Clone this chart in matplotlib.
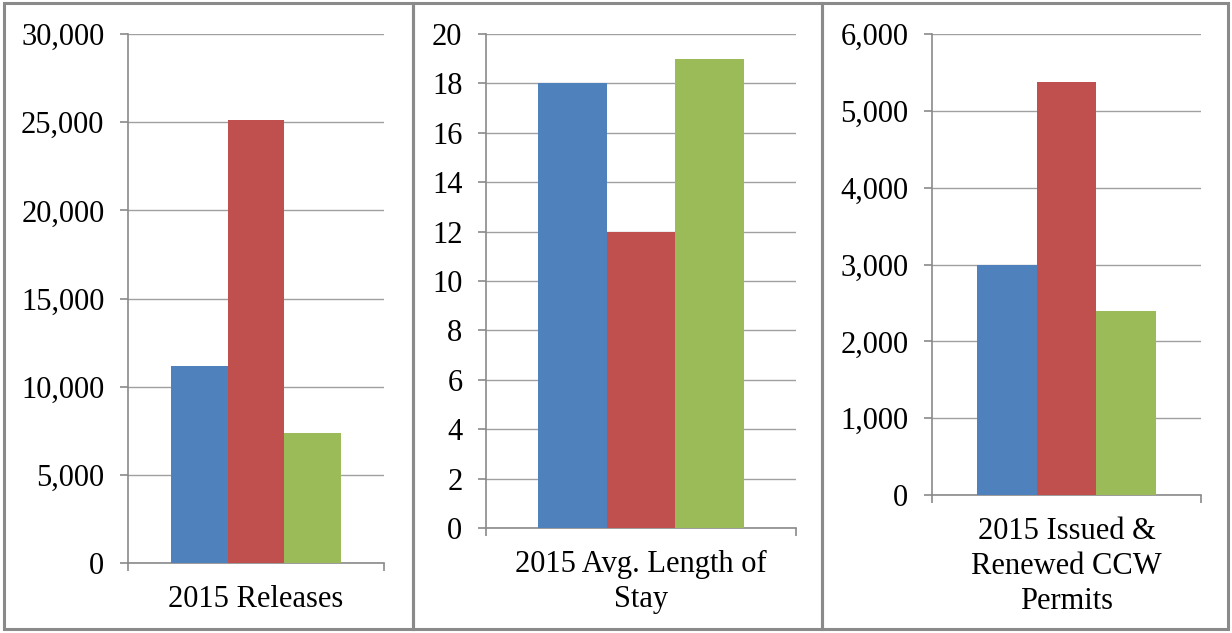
import matplotlib.pyplot as plt
from matplotlib.patches import Rectangle
from matplotlib.ticker import FuncFormatter

# data per panel (three series each)
labels = ['2015 Releases', '2015 Avg. Length of\nStay', '2015 Issued &\nRenewed CCW\nPermits']
releases = [11200, 25100, 7400]
stay = [18, 12, 19]
permits = [3000, 5370, 2390]
values = [releases, stay, permits]
ymax = [30000, 20, 6000]
ystep = [5000, 2, 1000]
colors = ['#4F81BD', '#C0504D', '#9BBB59']

W, H = 1232, 633
plt.rcParams['font.family'] = ['Liberation Serif', 'DejaVu Serif']
fig = plt.figure(figsize=(W / 100, H / 100), dpi=100)

# axes boxes in pixels: left, right, top, bottom
boxes = [(128, 384, 34, 563), (486, 796, 34, 528), (932, 1201, 34, 495)]
frames = [(4, 413), (413, 822), (822, 1228)]

grey = '#8a8a8a'

for i in range(3):
    l, r, t, b = boxes[i]
    ax = fig.add_axes([l / W, 1 - b / H, (r - l) / W, (b - t) / H])
    w = 0.222
    for j in range(3):
        ax.bar((j - 1) * w, values[i][j], width=w, color=colors[j], zorder=3)
    ax.set_xlim(-0.5, 0.5)
    ax.set_ylim(0, ymax[i])
    ax.set_yticks(range(0, ymax[i] + 1, ystep[i]))
    ax.yaxis.set_major_formatter(FuncFormatter(lambda v, p: f'{int(v):,}'))
    ax.set_xticks([-0.5, 0.5], ['', ''])
    ax.grid(axis='y', color='#a0a0a0', linewidth=1, zorder=0)
    for s in ['top', 'right']:
        ax.spines[s].set_visible(False)
    for s in ['left', 'bottom']:
        ax.spines[s].set_color(grey)
        ax.spines[s].set_linewidth(1.2)
    ax.tick_params(axis='both', length=6, width=1.2, color=grey, labelsize=22)
    ax.tick_params(axis='y', pad=11, labelcolor='black')
    ax.annotate(labels[i], xy=(0.5, 0), xycoords='axes fraction', xytext=(0, -22),
                textcoords='offset pixels', ha='center', va='top', fontsize=22,
                linespacing=1.27)

    fx0, fx1 = frames[i]
    fig.patches.append(Rectangle((fx0 / W, 1 - 629 / H), (fx1 - fx0) / W, (629 - 3) / H,
                                 transform=fig.transFigure, fill=False,
                                 edgecolor=grey, linewidth=2.2))

fig.savefig('out.png', dpi=100)
